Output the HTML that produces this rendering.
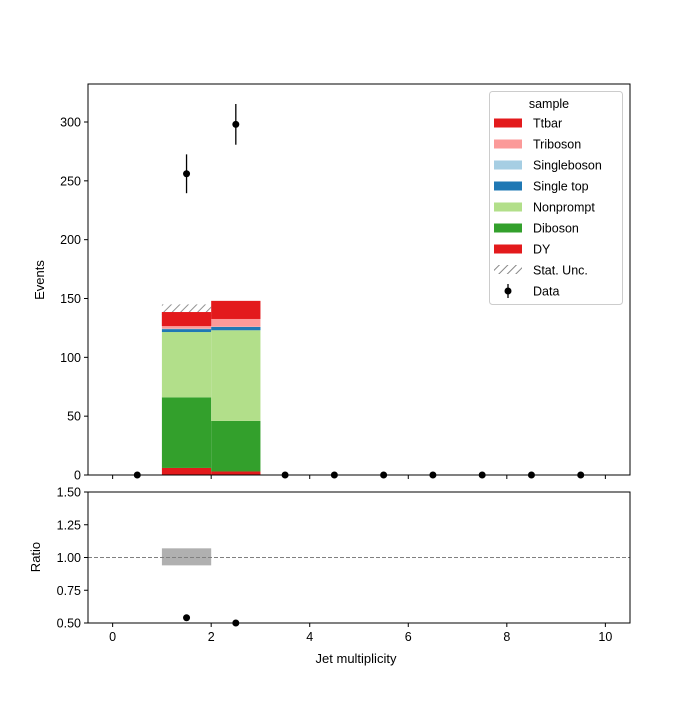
<!DOCTYPE html>
<html><head><meta charset="utf-8"><style>body{margin:0;background:#fff}svg{font-family:"Liberation Sans","DejaVu Sans",sans-serif}</style></head>
<body>
<svg id="c" width="700" height="700" xmlns="http://www.w3.org/2000/svg">
<defs><pattern id="hatch" width="6" height="6" patternUnits="userSpaceOnUse" patternTransform="rotate(45)"><rect width="6" height="6" fill="#fff"/><line x1="0" y1="0" x2="0" y2="6" stroke="#888" stroke-width="2"/></pattern></defs>
</svg>
<script>
const binEdges=[0,1,2,3,4,5,6,7,8,9,10];
const samples=["DY","Diboson","Nonprompt","Single top","Singleboson","Triboson","Ttbar"];
const colors=["#e31a1c","#33a02c","#b2df8a","#1f78b4","#a6cee3","#fb9a99","#e31a1c"];
const dyV=[0,6,3,0,0,0,0,0,0,0];
const dibosonV=[0,60,43,0,0,0,0,0,0,0];
const nonpromptV=[0,55.5,77,0,0,0,0,0,0,0];
const singletopV=[0,2.5,2.8,0,0,0,0,0,0,0];
const singlebosonV=[0,0.3,0.2,0,0,0,0,0,0,0];
const tribosonV=[0,2.3,6.6,0,0,0,0,0,0,0];
const ttbarV=[0,11.9,15.4,0,0,0,0,0,0,0];
const statUnc=[0,6.5,0,0,0,0,0,0,0,0];
const dataV=[0,256,298,0,0,0,0,0,0,0];
const dataErr=[0,16.5,17.3,0,0,0,0,0,0,0];
const ratioV=[null,0.54,0.5,null,null,null,null,null,null,null];
const ratioUncLo=[null,0.94,null,null,null,null,null,null,null,null];
const ratioUncHi=[null,1.07,null,null,null,null,null,null,null,null];
const xTicks=[0,2,4,6,8,10];
const yTicks=[0,50,100,150,200,250,300];
const rTicks=[0.5,0.75,1.0,1.25,1.5];
const series=[dyV,dibosonV,nonpromptV,singletopV,singlebosonV,tribosonV,ttbarV];

const NS="http://www.w3.org/2000/svg",svg=document.getElementById('c');
const L=88,R=630,T=84,B=475,RT=492,RB=623;
const X=v=>L+(v+0.5)/11*(R-L);
const Y=v=>B-v/332.3*(B-T);
const RY=v=>RB-(v-0.5)/1.0*(RB-RT);
function el(t,a,p){const e=document.createElementNS(NS,t);for(const k in a)e.setAttribute(k,a[k]);(p||svg).appendChild(e);return e;}
function txt(x,y,s,a){const e=el('text',Object.assign({x:x,y:y,'font-size':13,fill:'#000'},a||{}));e.textContent=s;return e;}

// stacks
const g=el('g',{});
for(let i=0;i<10;i++){let base=0;
 series.forEach((s,j)=>{const v=s[i];if(v>0){const r=el('rect',{x:X(binEdges[i]),y:Y(base+v),width:X(binEdges[i+1])-X(binEdges[i]),height:Y(base)-Y(base+v),fill:colors[j]},g);
 }base+=v;});
 if(statUnc[i]>0){const h=el('rect',{x:X(binEdges[i]),y:Y(base+statUnc[i]),width:X(binEdges[i+1])-X(binEdges[i]),height:Y(base-statUnc[i])-Y(base+statUnc[i]),fill:'url(#hatch)','fill-opacity':0.9},g);
 
 // redraw top layer over lower half so hatch shows only above
 let b2=base;const last=el('rect',{x:X(binEdges[i]),y:Y(b2-ttbarV[i]+0)-(Y(b2-ttbarV[i])-Y(b2)),width:0,height:0},g);}
}
// redo hatch visibility: hatch only shown above stack top
for(let i=0;i<10;i++){if(statUnc[i]>0){let base=series.reduce((a,s)=>a+s[i],0);
 const r=el('rect',{x:X(binEdges[i]),y:Y(base),width:X(binEdges[i+1])-X(binEdges[i]),height:Y(base-ttbarV[i])-Y(base),fill:colors[6]},g);
 }}

// data points
for(let i=0;i<10;i++){const cx=X(i+0.5);
 if(dataErr[i]>0){const l=el('line',{x1:cx,x2:cx,y1:Y(dataV[i]-dataErr[i]),y2:Y(dataV[i]+dataErr[i]),stroke:'#000','stroke-width':1.3});}
 const c=el('circle',{cx:cx,cy:Y(dataV[i]),r:3.5,fill:'#000'});}

// main axes
const fr=el('rect',{x:L,y:T,width:R-L,height:B-T,fill:'none',stroke:'#000','stroke-width':1});
yTicks.forEach(t=>{el('line',{x1:L-4,x2:L,y1:Y(t),y2:Y(t),stroke:'#000'});const e=txt(L-7,Y(t)+4.5,String(t),{'text-anchor':'end','font-size':12.5});});
xTicks.forEach(t=>{el('line',{x1:X(t),x2:X(t),y1:B,y2:B+4,stroke:'#000'});});
const yt=txt(44,280,'Events',{'text-anchor':'middle',transform:'rotate(-90 44 280)','font-size':13});

// ratio panel
const rg=el('g',{});
for(let i=0;i<10;i++){if(ratioUncLo[i]!=null){const r=el('rect',{x:X(binEdges[i]),y:RY(ratioUncHi[i]),width:X(binEdges[i+1])-X(binEdges[i]),height:RY(ratioUncLo[i])-RY(ratioUncHi[i]),fill:'#b0b0b0'},rg);}}
const dl=el('line',{x1:L,x2:R,y1:RY(1),y2:RY(1),stroke:'#808080','stroke-dasharray':'4,2','stroke-width':1},rg);
const cp=el('clipPath',{id:'rc'});el('rect',{x:L,y:RT,width:R-L,height:RB-RT+4},cp);
for(let i=0;i<10;i++){if(ratioV[i]!=null){const c=el('circle',{cx:X(i+0.5),cy:RY(ratioV[i]),r:3.5,fill:'#000','clip-path':'url(#rc)'},rg);}}
const rf=el('rect',{x:L,y:RT,width:R-L,height:RB-RT,fill:'none',stroke:'#000'});
rTicks.forEach(t=>{el('line',{x1:L-4,x2:L,y1:RY(t),y2:RY(t),stroke:'#000'});const e=txt(L-7,RY(t)+4.5,t.toFixed(2),{'text-anchor':'end','font-size':12.5});});
xTicks.forEach(t=>{el('line',{x1:X(t),x2:X(t),y1:RB,y2:RB+4,stroke:'#000'});const e=txt(X(t),RB+18,String(t),{'text-anchor':'middle','font-size':12.5});});
const rt=txt(40,557,'Ratio',{'text-anchor':'middle',transform:'rotate(-90 40 557)'});
const xt=txt(356,663,'Jet multiplicity',{'text-anchor':'middle'});

// legend
const lg=el('g',{});
el('rect',{x:489.5,y:91.5,width:133,height:213,rx:3,fill:'#fff',stroke:'#ccc'},lg);
txt(549,108,'sample',{'text-anchor':'middle','font-size':12.5},lg);
const legNames=["Ttbar","Triboson","Singleboson","Single top","Nonprompt","Diboson","DY"];
const legCols=["#e31a1c","#fb9a99","#a6cee3","#1f78b4","#b2df8a","#33a02c","#e31a1c"];
legNames.forEach((n,k)=>{const y=123+k*21;const e=el('g',{},lg);
 el('rect',{x:494,y:y-4.5,width:28,height:9,fill:legCols[k]},e);txt(533,y+4.5,n,{'font-size':12.5},e);});
const su=el('g',{},lg);
el('rect',{x:494,y:265,width:28,height:9,fill:'url(#hatch)'},su);txt(533,274.5,'Stat. Unc.',{'font-size':12.5},su);
const dd=el('g',{},lg);
el('line',{x1:508,x2:508,y1:284,y2:298,stroke:'#000','stroke-width':1.3},dd);el('circle',{cx:508,cy:291,r:3.5},dd);txt(533,295.5,'Data',{'font-size':12.5},dd);
</script>
</body></html>
